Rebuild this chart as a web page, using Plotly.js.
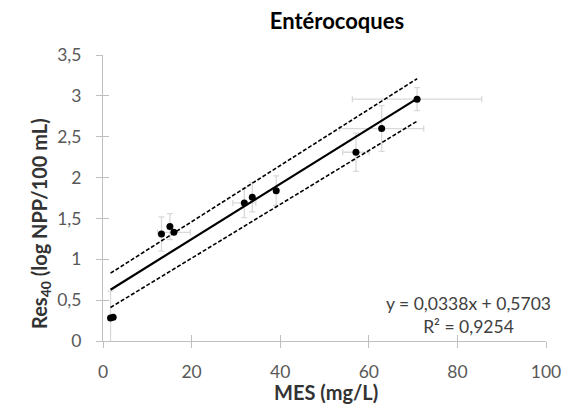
<!DOCTYPE html>
<html><head><meta charset="utf-8">
<script src="https://cdn.plot.ly/plotly-3.0.1.min.js"></script>
<style>html,body{margin:0;padding:0;background:#fff}#chart{width:582px;height:417px}</style>
</head><body><div id="chart"></div>
<script>
// Data
const mesX   = [1.7, 2.3, 13.2, 15.1, 16.0, 31.9, 33.7, 39.1, 57.1, 62.9, 70.9];
const res40  = [0.28, 0.29, 1.31, 1.40, 1.33, 1.69, 1.76, 1.84, 2.31, 2.60, 2.96];
const errX   = [0, 0, 0, 0, 3.7, 2.6, 0, 0, 3.0, 9.5, 14.6];
const errY   = [0.33, 0, 0.21, 0.16, 0, 0.18, 0.18, 0.18, 0.235, 0.28, 0.14];
const slope = 0.0338, intercept = 0.5703;
const fitX = [1.7, 70.9];
const bandUpper = [0.83, 3.21];
const bandLower = [0.41, 2.69];
const xTicks = [0, 20, 40, 60, 80, 100];
const yTicks = [0, 0.5, 1, 1.5, 2, 2.5, 3, 3.5];

const fitY = fitX.map(x => slope * x + intercept);
const FONT = 'Lato, "Open Sans", sans-serif';

const traces = [
  {x: mesX, y: res40, mode: 'markers', type: 'scatter',
   marker: {color: '#000', size: 7},
   error_x: {type: 'data', array: errX, visible: true, color: '#d9d9d9', thickness: 1.3, width: 3},
   error_y: {type: 'data', array: errY, visible: true, color: '#d9d9d9', thickness: 1.3, width: 3},
   hoverinfo: 'skip'},
  {x: fitX, y: fitY, mode: 'lines', line: {color: '#000', width: 2.2}},
  {x: fitX, y: bandUpper, mode: 'lines', line: {color: '#000', width: 1.6, dash: '4px,2px'}},
  {x: fitX, y: bandLower, mode: 'lines', line: {color: '#000', width: 1.6, dash: '4px,2px'}}
];

const axisCommon = {showgrid: false, zeroline: false, showline: true, linecolor: '#bfbfbf', linewidth: 1,
  ticks: 'outside', ticklen: 6, tickcolor: '#bfbfbf', tickwidth: 1,
  tickfont: {family: FONT, size: 17.5, color: '#595959'}};

const layout = {
  width: 582, height: 417,
  margin: {l: 103, r: 36, t: 55, b: 76},
  paper_bgcolor: '#fff', plot_bgcolor: '#fff',
  showlegend: false,
  separators: ', ',
  title: {text: '<b>Entérocoques</b>', font: {family: FONT, size: 22, color: '#000'},
          xref: 'container', yref: 'container', x: 337/582, xanchor: 'center', y: 1 - 21/417, yanchor: 'middle'},
  xaxis: Object.assign({}, axisCommon, {range: [0, 100], tickvals: xTicks, ticklabelstandoff: 9}),
  yaxis: Object.assign({}, axisCommon, {range: [0, 3.5], tickvals: yTicks, ticklabelstandoff: 11}),
  xaxis2: {overlaying: 'x', matches: 'x', range: [0, 100], tickvals: xTicks, ticks: 'inside', ticklen: 6,
           tickcolor: '#bfbfbf', showticklabels: false, showgrid: false, zeroline: false, showline: false},
  yaxis2: {overlaying: 'y', matches: 'y', range: [0, 3.5], tickvals: yTicks, ticks: 'inside', ticklen: 6,
           tickcolor: '#bfbfbf', showticklabels: false, showgrid: false, zeroline: false, showline: false},
  annotations: [
    {text: '<b>MES (mg/L)</b>', xref: 'paper', yref: 'paper', x: (325.5-103)/443, y: (341-392)/286,
     xanchor: 'center', yanchor: 'middle', showarrow: false, font: {family: FONT, size: 20, color: '#333'}},
    {text: '<b>Res<sub>40</sub> (log NPP/100 mL)</b>', xref: 'paper', yref: 'paper', x: (41-103)/443, y: (341-224)/286,
     xanchor: 'center', yanchor: 'middle', textangle: -90, showarrow: false, font: {family: FONT, size: 20, color: '#333'}},
    {text: 'y = 0,0338x + 0,5703<br>R² = 0,9254', xref: 'paper', yref: 'paper', x: (468-103)/443, y: (341-314.5)/286,
     xanchor: 'center', yanchor: 'middle', align: 'center', showarrow: false, font: {family: FONT, size: 17.5, color: '#404040'}}
  ]
};
// placeholder trace so the secondary axes draw their inside tick marks
traces.push({x: [null], y: [null], xaxis: 'x2', yaxis: 'y2', mode: 'markers', hoverinfo: 'skip'});
Plotly.newPlot('chart', traces, layout, {staticPlot: true, displayModeBar: false});
</script></body></html>
